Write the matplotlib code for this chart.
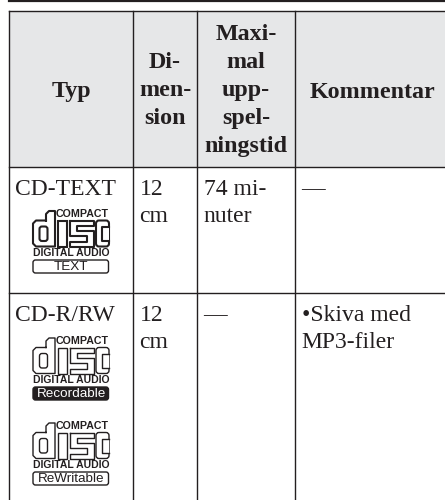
import matplotlib
matplotlib.use('Agg')
import matplotlib.pyplot as plt
from matplotlib.patches import Rectangle, FancyBboxPatch

# table text
headers = ['Typ', 'Di-\nmen-\nsion', 'Maxi-\nmal\nupp-\nspel-\nningstid', 'Kommentar']
types = ['CD-TEXT', 'CD-R/RW']
dimensions = ['12\ncm', '12\ncm']
times = ['74 mi-\nnuter', '—']
comments = ['—', '•Skiva med\nMP3-filer']

W, H = 445, 500
col_x = [9, 133, 197, 295, 445]
row_y = [11, 167, 293, 500]
HEAD = '#e6e7e8'
INK = '#231f20'

plt.rcParams['font.family'] = ['Liberation Serif', 'DejaVu Serif']

fig = plt.figure(figsize=(W / 100, H / 100), dpi=100)
ax = fig.add_axes([0, 0, 1, 1])
ax.set_xlim(0, W)
ax.set_ylim(H, 0)
ax.axis('off')


def rbox(x, y, w, h, rad, lw, fc='none'):
    ax.add_patch(FancyBboxPatch((x, y), w, h, boxstyle=f'round,pad=0,rounding_size={rad}',
                                fc=fc, ec=INK, lw=lw))


def logo(x, top, caption, style, lw):
    # outlined "disc" letters, words above and below, caption box
    b = top + 35.5
    m = top + 9.5
    # d
    ax.plot([x + 14, x + 14, x + 17, x + 23, x + 23, x + 4, x + 1, x + 1, x + 4, x + 14],
            [m, top + 3, top, top, b, b, b - 3, m + 3, m, m], color=INK, lw=lw)
    rbox(x + 7.5, m + 6, 8, 14.5, 2.5, lw)
    # i
    ax.add_patch(Rectangle((x + 26, m), 9, b - m, fc='none', ec=INK, lw=lw))
    # s
    ax.plot([x + 38, x + 62, x + 62, x + 45, x + 45, x + 62, x + 62, x + 38, x + 38, x + 55, x + 55, x + 38, x + 38],
            [m, m, m + 5, m + 5, m + 10, m + 10, b, b, b - 5, b - 5, m + 15, m + 15, m],
            color=INK, lw=lw)
    # c
    rbox(x + 64, m, 13, b - m, 3, lw)
    ax.add_patch(Rectangle((x + 70, m + 6), 7.4, b - m - 12, fc='white', ec='none', zorder=3))
    ax.plot([x + 77, x + 70, x + 70, x + 77], [m + 6, m + 6, b - 6, b - 6], color=INK, lw=lw, zorder=4)
    ax.text(x + 77, top + 3.2, 'COMPACT', ha='right', va='center', fontsize=7.7, fontweight='bold',
            family='Liberation Sans', color=INK)
    ax.text(x + 39, top + 42, 'DIGITAL AUDIO', ha='center', va='center', fontsize=7.5, fontweight='bold',
            family='Liberation Sans', color=INK)
    fc, tc = (INK, 'white') if style == 'dark' else ('white', INK)
    rbox(x + 1, top + 49, 75.5, 13, 2.5, 1.0, fc=fc)
    ax.text(x + 39, top + 56, caption, ha='center', va='center', fontsize=9.7,
            family='Liberation Sans', color=tc)


# header shading and page rule
ax.add_patch(Rectangle((col_x[0], row_y[0]), col_x[-1] - col_x[0], row_y[1] - row_y[0], fc=HEAD, ec='none'))
ax.plot([col_x[0], W], [0.5, 0.5], color=INK, lw=1.6)

# grid
for x in col_x[:-1]:
    ax.plot([x, x], [row_y[0], H], color=INK, lw=1.0)
for y in row_y[:-1]:
    ax.plot([col_x[0], W], [y, y], color=INK, lw=1.0)

# header text, the last column sits a little right of centre
for i, h in enumerate(headers):
    cx = (col_x[i] + col_x[i + 1]) / 2 + (3 if i == 3 else 0)
    cy = (row_y[0] + row_y[1]) / 2 + (3 if '\n' not in h else 1.5)
    ax.text(cx, cy, h, ha='center', va='center', fontsize=17.3, fontweight='bold',
            color=INK, linespacing=1.44)

# body text
for r, (t, d, m, c) in enumerate(zip(types, dimensions, times, comments)):
    y = row_y[r + 1] + 12
    for i, s in enumerate([t, d, m, c]):
        ax.text(col_x[i] + 6.5, y, s, ha='left', va='top', fontsize=17, color=INK, linespacing=1.4)

logo(32, 211, 'TEXT', 'light', 1.5)
logo(32, 338, 'Recordable', 'dark', 1.0)
logo(32, 423, 'ReWritable', 'light', 1.0)

fig.savefig('out.png', dpi=100)
